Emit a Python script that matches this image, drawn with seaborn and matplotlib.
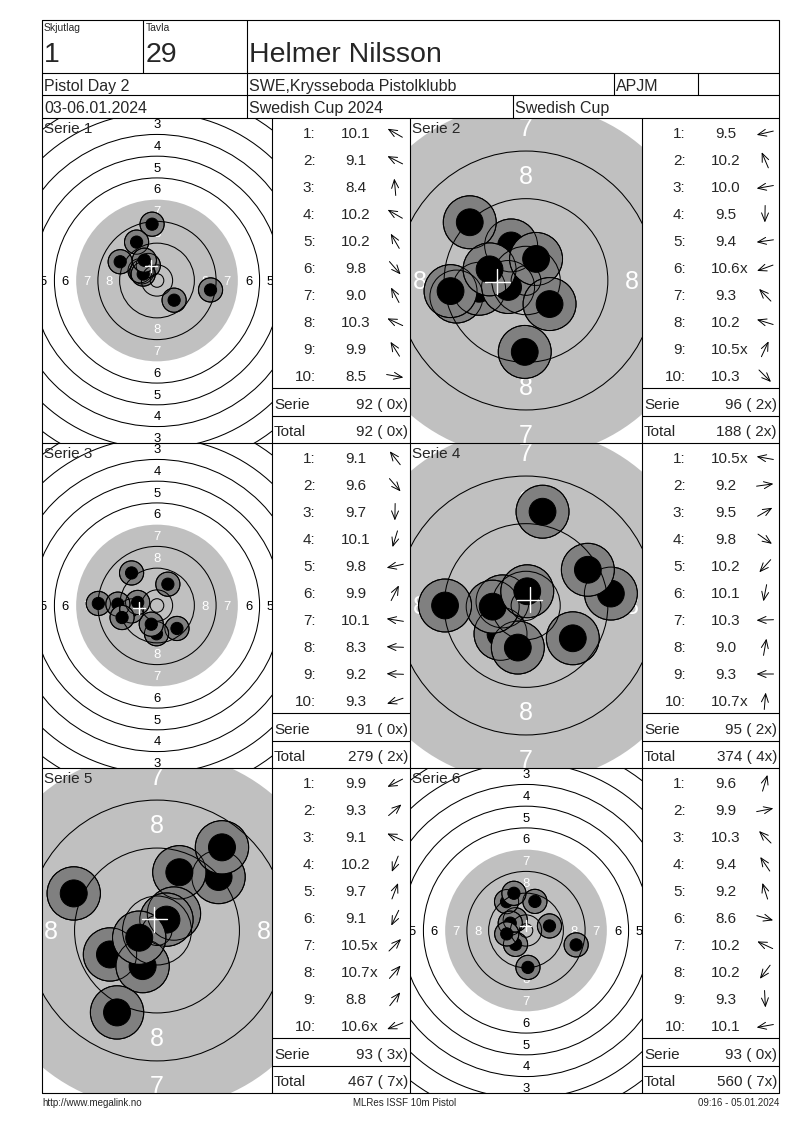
import matplotlib.pyplot as plt
import matplotlib.patches as mpatches
import numpy as np
import pandas as pd
import seaborn as sns

# Header texts
shoot_group = '1'
lane = '29'
shooter = 'Helmer Nilsson'
event = 'Pistol Day 2'
club = 'SWE,Krysseboda Pistolklubb'
shooter_class = 'APJM'
dates = '03-06.01.2024'
competition = 'Swedish Cup 2024'
cup = 'Swedish Cup'
footer_left = 'http://www.megalink.no'
footer_mid = 'MLRes ISSF 10m Pistol'
footer_right = '09:16 - 05.01.2024'

# Shot scores and direction of each shot (degrees, counter-clockwise from 3 o'clock)
s1_scores = [10.1, 9.1, 8.4, 10.2, 10.2, 9.8, 9.0, 10.3, 9.9, 8.5]
s1_angles = [150, 153, 95, 150, 120, -49, 118, 155, 122, -10]
s2_scores = [9.5, 10.2, 10.0, 9.5, 9.4, 10.6, 9.3, 10.2, 10.5, 10.3]
s2_angles = [193, 113, 190, -91, 188, 200, 134, 163, 65, -45]
s3_scores = [9.1, 9.6, 9.7, 10.1, 9.8, 9.9, 10.1, 8.3, 9.2, 9.3]
s3_angles = [128, -49, 269, 253, 192, 63, 171, 178, 178, 199]
s4_scores = [10.5, 9.2, 9.5, 9.8, 10.2, 10.1, 10.3, 9.0, 9.3, 10.7]
s4_angles = [170, 8, 30, -35, 228, 259, 182, 80, 180, 85]
s5_scores = [9.9, 9.3, 9.1, 10.2, 9.7, 9.1, 10.5, 10.7, 8.8, 10.6]
s5_angles = [207, 41, 156, 248, 69, 244, 45, 49, 52, 202]
s6_scores = [9.6, 9.9, 10.3, 9.4, 9.2, 8.6, 10.2, 10.2, 9.3, 10.1]
s6_angles = [73, 11, 135, 124, 108, -16, 155, 233, -87, 190]

series = [(s1_scores, s1_angles), (s2_scores, s2_angles), (s3_scores, s3_angles),
          (s4_scores, s4_angles), (s5_scores, s5_angles), (s6_scores, s6_angles)]

# how much of the target each panel shows (half height, mm)
view_half_mm = [59.8, 27.3, 59.8, 27.3, 27.1, 59.8]

# ISSF 10m pistol target (mm)
R10 = 5.75
RING_STEP = 8.0
INNER_TEN = 2.5
SHOT_OUT = 4.45
SHOT_IN = 2.25

# page layout in pixels
W, H = 800, 1130
X0, X1 = 42, 779
TOP, BOT = 20, 1093
rows = [(118, 443), (443, 768), (768, 1093)]
target_cols = [(42, 272), (410, 642)]
table_cols = [(272, 410), (642, 779)]


def ring_radius(n):
    return R10 + RING_STEP * (10 - n)


def to_fig(x0, y0, x1, y1):
    return [x0 / W, 1 - y1 / H, (x1 - x0) / W, (y1 - y0) / H]


sns.set_theme(style='white')
plt.rcParams['font.family'] = ['Liberation Sans', 'DejaVu Sans']

fig = plt.figure(figsize=(W / 100, H / 100), dpi=100)
fig.patch.set_facecolor('white')

cum_total = 0
cum_x = 0
table_rows = []

for i, (scores, angles) in enumerate(series):
    row, col = divmod(i, 2)
    ty0, ty1 = rows[row]
    tx0, tx1 = target_cols[col]
    ax = fig.add_axes(to_fig(tx0, ty0, tx1, ty1))
    hh = view_half_mm[i]
    ppm = (ty1 - ty0) / (2 * hh)
    hw = (tx1 - tx0) / (2 * ppm)
    pt = ppm * 0.72

    ax.add_patch(mpatches.Circle((0, 0), ring_radius(7), color='#c0c0c0', lw=0, zorder=1))

    # ring numbers (only those that fall inside the panel)
    lab_px = min(4.8 * ppm, 25)
    lab_fs = lab_px * 0.72
    off = 0.358 * lab_px / ppm
    margin = 0.3 * lab_px / ppm
    for n in range(1, 9):
        r = ring_radius(n) - RING_STEP / 2
        c = 'white' if n >= 7 else 'black'
        for ux, uy in [(0, 1), (0, -1), (-1, 0), (1, 0)]:
            if abs(ux * r) > hw + margin or abs(uy * r) > hh + margin:
                continue
            ax.text(ux * r, uy * r - off, str(n), ha='center', va='baseline',
                    fontsize=lab_fs, color=c, zorder=2, clip_on=True)

    # shots
    sc = np.array(scores)
    d = (11 - sc) * RING_STEP
    a = np.radians(angles)
    sx = d * np.cos(a)
    sy = d * np.sin(a)
    df = pd.DataFrame({'x': np.repeat(sx, 2), 'y': np.repeat(sy, 2),
                       'layer': ['outer', 'inner'] * len(sc)})
    sns.scatterplot(data=df, x='x', y='y', hue='layer', size='layer',
                    palette={'outer': '#808080', 'inner': 'black'},
                    sizes={'outer': (2 * SHOT_OUT * pt) ** 2, 'inner': (2 * SHOT_IN * pt) ** 2},
                    edgecolor='black', linewidth=0.7, legend=False, ax=ax, zorder=3)
    ax.scatter(sx, sy, s=(2 * SHOT_OUT * pt) ** 2, facecolors='none',
               edgecolors='black', linewidths=0.7, zorder=4)

    for n in [1, 2, 3, 4, 5, 6, 8, 9, 10]:
        ax.add_patch(mpatches.Circle((0, 0), ring_radius(n), fill=False, ec='black', lw=0.75, zorder=5))
    ax.add_patch(mpatches.Circle((0, 0), INNER_TEN, fill=False, ec='black', lw=0.75, zorder=5))

    # group centre
    mx, my = sx.mean(), sy.mean()
    ax.plot([mx - 2.1, mx + 2.1], [my, my], color='white', lw=1, zorder=6)
    ax.plot([mx, mx], [my - 2.1, my + 2.1], color='white', lw=1, zorder=6)

    ax.set_xlim(-hw, hw)
    ax.set_ylim(-hh, hh)
    ax.set_axis_off()

    inner = d <= INNER_TEN + SHOT_IN
    ser_total = int(np.floor(sc + 1e-9).sum())
    ser_x = int(inner.sum())
    cum_total += ser_total
    cum_x += ser_x
    table_rows.append((scores, angles, inner, ser_total, ser_x, cum_total, cum_x))

# page with frames and texts on top
page = fig.add_axes([0, 0, 1, 1], zorder=10)
page.set_xlim(0, W)
page.set_ylim(H, 0)
page.axis('off')
LW = 0.8


def txt(x, yc, s, size, ha='left', **kw):
    page.text(x, yc + 0.358 * size / 0.72, s, ha=ha, va='baseline', fontsize=size, **kw)


page.plot([X0, X1, X1, X0, X0], [TOP, TOP, BOT, BOT, TOP], color='black', lw=LW)
for y in [73, 95, 118, 443, 768]:
    page.plot([X0, X1], [y, y], color='black', lw=LW)
page.plot([143, 143], [TOP, 73], color='black', lw=LW)
page.plot([247, 247], [TOP, 118], color='black', lw=LW)
page.plot([614, 614], [73, 95], color='black', lw=LW)
page.plot([698, 698], [73, 95], color='black', lw=LW)
page.plot([513, 513], [95, 118], color='black', lw=LW)
for x in [272, 410, 642]:
    page.plot([x, x], [118, BOT], color='black', lw=LW)

txt(44, 27, 'Skjutlag', 7.5)
txt(146, 27, 'Tavla', 7.5)
txt(44, 52, shoot_group, 20.5)
txt(146, 52, lane, 20.5)
txt(249, 52, shooter, 20.5)
txt(44, 85, event, 11.5)
txt(249, 85, club, 11.5)
txt(616, 85, shooter_class, 11.5)
txt(44, 107, dates, 11.5)
txt(249, 107, competition, 11.5)
txt(515, 107, cup, 11.5)

for i, (scores, angles, inner, ser_total, ser_x, tot, tot_x) in enumerate(table_rows):
    row, col = divmod(i, 2)
    ty0, ty1 = rows[row]
    tx0, tx1 = target_cols[col]
    bx0, bx1 = table_cols[col]
    txt(tx0 + 1.5, ty0 + 10, f'Serie {i + 1}', 11)
    for k, (s, ang) in enumerate(zip(scores, angles)):
        y = ty0 + 15 + 27 * k
        txt(bx0 + 43.5, y, f'{k + 1}:', 11, ha='right')
        txt(bx0 + 84, y, f'{s:.1f}', 11, ha='center')
        if inner[k]:
            txt(bx0 + 97.5, y, 'x', 11)
        cx, cy = bx0 + 123, y
        ux, uy = np.cos(np.radians(ang)), -np.sin(np.radians(ang))
        L = 8.5
        page.annotate('', xy=(cx + L * ux, cy + L * uy), xytext=(cx - L * ux, cy - L * uy),
                      arrowprops=dict(arrowstyle='->,head_length=0.6,head_width=0.25',
                                      lw=0.7, color='black', shrinkA=0, shrinkB=0,
                                      mutation_scale=10))
    page.plot([bx0, bx1], [ty0 + 270, ty0 + 270], color='black', lw=LW)
    page.plot([bx0, bx1], [ty0 + 297.5, ty0 + 297.5], color='black', lw=LW)
    txt(bx0 + 2, ty0 + 285.5, 'Serie', 11)
    txt(bx1 - 2, ty0 + 285.5, f'{ser_total} ({ser_x:2d}x)', 11, ha='right')
    txt(bx0 + 2, ty0 + 312.5, 'Total', 11)
    txt(bx1 - 2, ty0 + 312.5, f'{tot} ({tot_x:2d}x)', 11, ha='right')

txt(X0, 1103, footer_left, 7)
txt(405, 1103, footer_mid, 7, ha='center')
txt(X1, 1103, footer_right, 7, ha='right')

fig.savefig('out.png', dpi=100, facecolor='white')
